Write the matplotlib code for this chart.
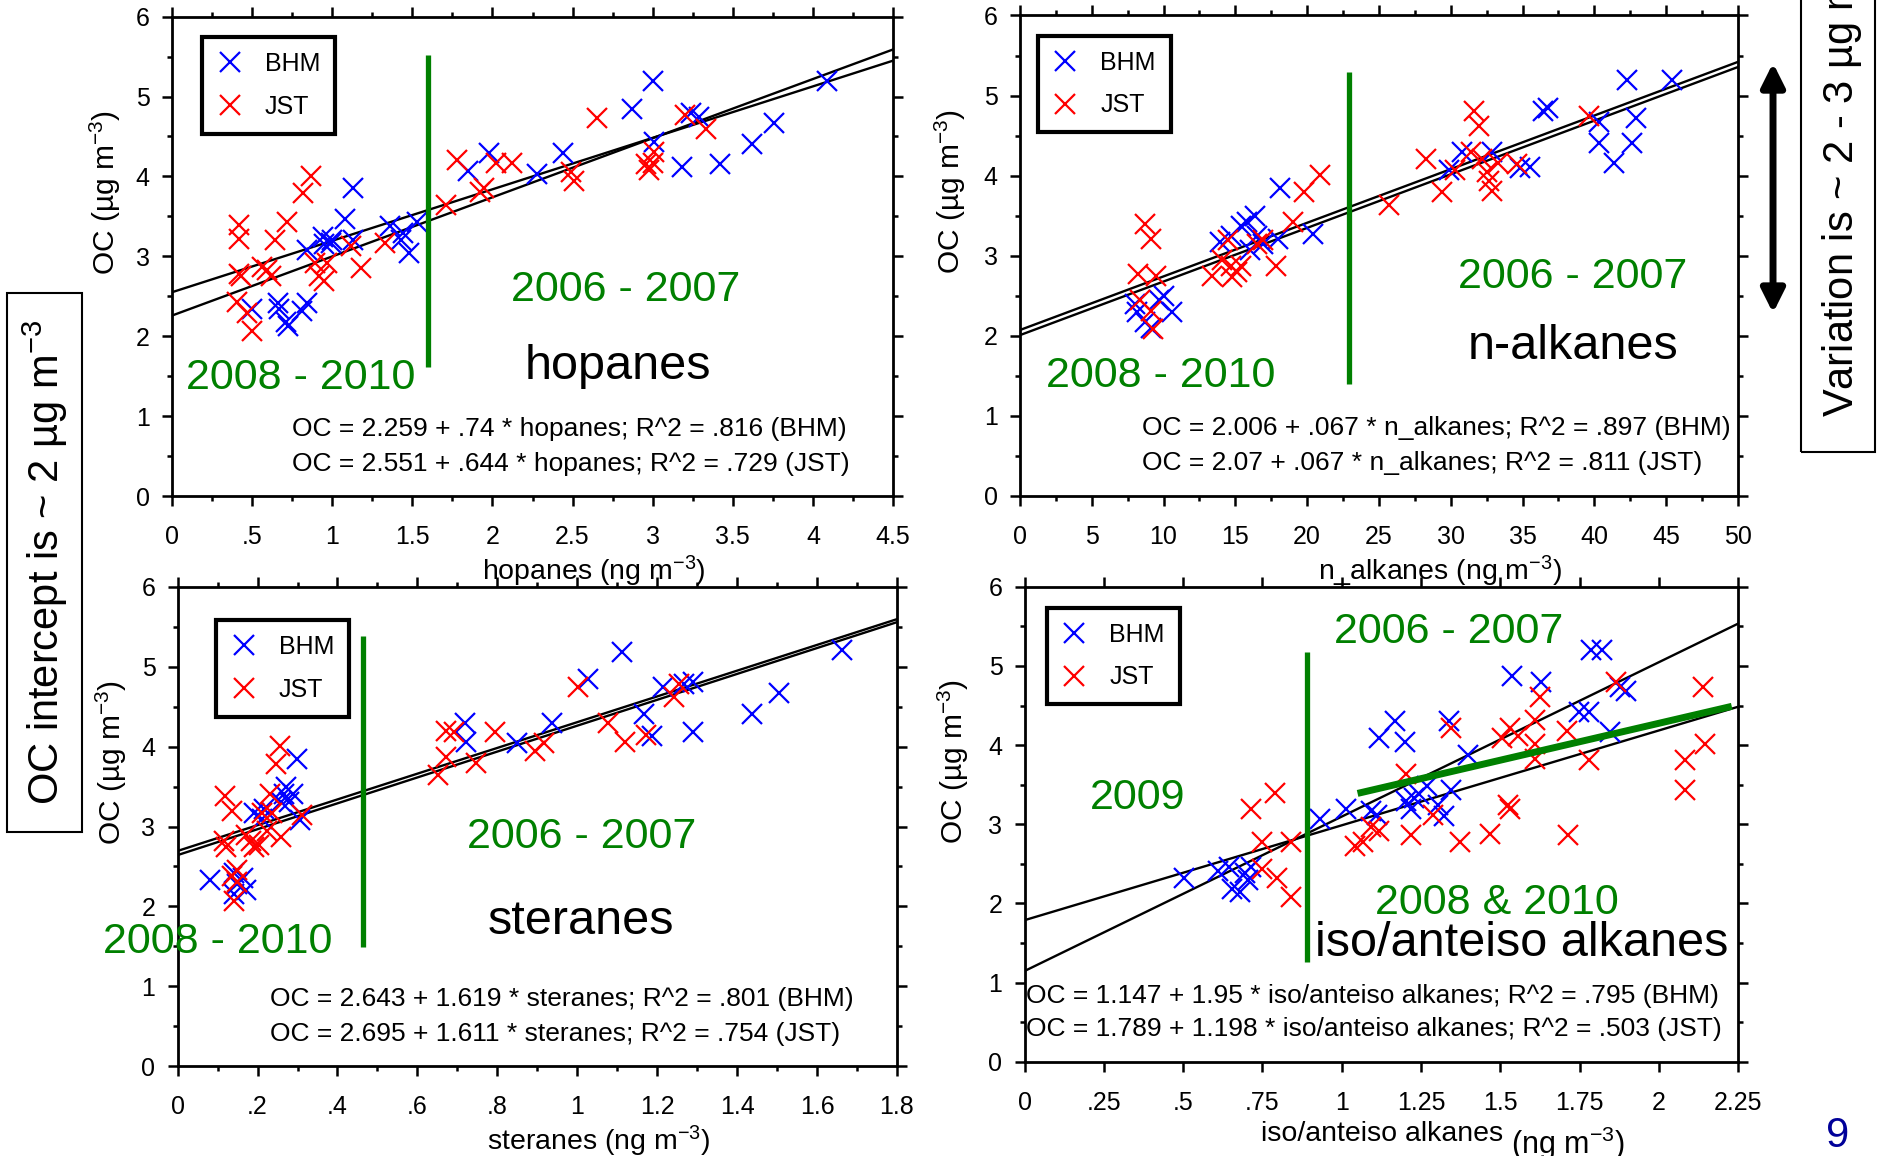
import matplotlib
matplotlib.use('Agg')
import numpy as np
import matplotlib.pyplot as plt
from matplotlib.patches import Rectangle, FancyArrowPatch
from matplotlib.lines import Line2D
from matplotlib.ticker import MultipleLocator, FixedLocator, NullLocator

plt.rcParams['font.family'] = ['Liberation Sans', 'DejaVu Sans']
plt.rcParams['mathtext.fontset'] = 'custom'
plt.rcParams['mathtext.rm'] = 'Liberation Sans'
plt.rcParams['mathtext.it'] = 'Liberation Sans:italic'
plt.rcParams['mathtext.bf'] = 'Liberation Sans:bold'
plt.rcParams['mathtext.default'] = 'regular'

# ---------------- data ----------------
# hopanes panel
hop_bhm_x = [0.50, 0.66, 0.67, 0.71, 0.725, 0.81, 0.84, 0.84, 0.94, 0.95, 0.99, 1.00, 1.08, 1.13, 1.13,
             1.36, 1.43, 1.44, 1.48, 1.53, 1.85, 1.98, 2.28, 2.44, 2.87, 3.00, 3.01, 3.18, 3.24, 3.29,
             3.42, 3.62, 3.76, 4.09]
hop_bhm_oc = [2.34, 2.41, 2.34, 2.18, 2.13, 2.32, 2.41, 3.08, 3.24, 3.15, 3.17, 3.20, 3.47, 3.86, 3.20,
              3.38, 3.20, 3.29, 3.04, 3.43, 4.07, 4.29, 4.03, 4.29, 4.85, 5.20, 4.43, 4.12, 4.80, 4.75,
              4.16, 4.41, 4.67, 5.20]
hop_jst_x = [0.415, 0.42, 0.415, 0.43, 0.405, 0.47, 0.50, 0.56, 0.59, 0.62, 0.64, 0.72, 0.82, 0.87, 0.89,
             0.92, 0.95, 0.97, 1.12, 1.18, 1.33, 1.71, 1.78, 1.92, 1.95, 2.02, 2.12, 2.49, 2.51, 2.65,
             2.96, 2.98, 3.00, 3.01, 3.20, 3.33]
hop_jst_oc = [3.22, 3.39, 2.78, 2.76, 2.43, 2.29, 2.06, 2.87, 2.83, 2.76, 3.20, 3.43, 3.79, 4.01, 2.92,
              2.76, 2.69, 2.92, 3.13, 2.85, 3.17, 3.64, 4.21, 3.80, 3.85, 4.17, 4.17, 4.05, 3.94, 4.73,
              4.15, 4.08, 4.17, 4.31, 4.77, 4.60]
hop_fit_bhm = (2.259, 0.74)
hop_fit_jst = (2.551, 0.644)

# n-alkanes panel
alk_bhm_x = [8.0, 8.18, 8.74, 9.1, 9.67, 10.0, 10.6, 13.9, 14.7, 15.4, 15.8, 16.0, 16.4, 16.5, 16.9,
             18.0, 18.1, 20.4, 29.9, 30.8, 32.9, 34.8, 35.5, 36.4, 36.8, 40.3, 40.3, 41.4, 42.3, 42.6,
             42.9, 45.4]
alk_bhm_oc = [2.40, 2.29, 2.17, 2.10, 2.45, 2.50, 2.29, 3.17, 3.24, 3.37, 3.42, 3.07, 3.49, 3.24, 3.14,
              3.21, 3.85, 3.27, 4.07, 4.30, 4.30, 4.09, 4.11, 4.81, 4.85, 4.67, 4.41, 4.16, 5.20, 4.41,
              4.72, 5.20]
alk_jst_x = [8.2, 8.36, 8.7, 9.1, 9.5, 9.1, 9.3, 13.4, 14.1, 14.5, 14.7, 14.8, 15.1, 15.4, 16.5,
             16.9, 17.8, 19.0, 19.8, 20.9, 25.7, 28.3, 29.4, 30.3, 31.4, 31.6, 32.0, 32.2, 32.5, 32.7,
             32.9, 33.3, 34.6, 39.6]
alk_jst_oc = [2.77, 2.45, 3.40, 3.21, 2.75, 2.31, 2.08, 2.75, 2.94, 3.19, 2.87, 2.73, 2.80, 2.87, 3.14,
              3.19, 2.87, 3.42, 3.79, 4.01, 3.63, 4.21, 3.79, 4.07, 4.30, 4.81, 4.62, 4.21, 4.05, 3.93,
              3.81, 4.16, 4.14, 4.74]
alk_fit_bhm = (2.006, 0.067)
alk_fit_jst = (2.07, 0.067)

# steranes panel
ste_bhm_x = [0.081, 0.142, 0.149, 0.163, 0.17, 0.142, 0.19, 0.21, 0.217, 0.258, 0.265, 0.271, 0.278, 0.288,
             0.298, 0.305, 0.719, 0.722, 0.848, 0.936, 1.027, 1.112, 1.167, 1.187, 1.214, 1.268, 1.289,
             1.289, 1.438, 1.506, 1.662]
ste_bhm_oc = [2.33, 2.42, 2.28, 2.35, 2.21, 2.15, 3.17, 3.10, 3.22, 3.31, 3.41, 3.50, 3.31, 3.41,
              3.85, 3.08, 4.29, 4.06, 4.05, 4.29, 4.85, 5.19, 4.41, 4.13, 4.74, 4.78, 4.81,
              4.18, 4.41, 4.67, 5.21]
ste_jst_x = [0.115, 0.122, 0.119, 0.136, 0.136, 0.149, 0.142, 0.149, 0.17, 0.183, 0.19, 0.203, 0.21, 0.224,
             0.231, 0.237, 0.247, 0.255, 0.258, 0.312, 0.651, 0.671, 0.671, 0.692, 0.746, 0.794, 0.895,
             0.916, 1.001, 1.078, 1.119, 1.173, 1.241, 1.255]
ste_jst_oc = [2.82, 2.75, 3.38, 3.19, 2.38, 2.45, 2.07, 2.31, 2.89, 2.82, 2.75, 2.77, 3.17, 2.94,
              3.41, 3.17, 3.78, 4.01, 2.87, 3.15, 3.64, 3.87, 4.20, 4.18, 3.80, 4.18, 3.94,
              4.04, 4.74, 4.29, 4.06, 4.15, 4.62, 4.78]
ste_fit_bhm = (2.643, 1.619)
ste_fit_jst = (2.695, 1.611)

# iso/anteiso alkanes panel
iso_bhm_x = [0.502, 0.611, 0.645, 0.654, 0.679, 0.696, 0.713, 0.704, 0.932, 1.012, 1.093, 1.11, 1.118, 1.169,
             1.20, 1.203, 1.22, 1.228, 1.245, 1.27, 1.304, 1.321, 1.338, 1.346, 1.397, 1.537, 1.628,
             1.747, 1.78, 1.786, 1.82, 1.845, 1.878, 1.895]
iso_bhm_oc = [2.32, 2.41, 2.46, 2.18, 2.15, 2.39, 2.46, 2.29, 3.07, 3.19, 3.17, 3.12, 4.09, 4.30,
              4.04, 3.29, 3.19, 3.33, 3.38, 3.48, 3.24, 3.10, 4.30, 3.43, 3.88, 4.87, 4.80,
              4.42, 4.42, 5.20, 5.20, 4.16, 4.73, 4.68]
iso_jst_x = [0.713, 0.747, 0.747, 0.789, 0.797, 0.84, 0.84, 1.042, 1.068, 1.093, 1.118, 1.203, 1.22, 1.287,
             1.346, 1.372, 1.468, 1.507, 1.524, 1.532, 1.532, 1.557, 1.608, 1.608, 1.611, 1.625, 1.709,
             1.713, 1.78, 1.865, 2.081, 2.084, 2.14, 2.145]
iso_jst_oc = [3.19, 2.77, 2.44, 3.39, 2.32, 2.77, 2.08, 2.72, 2.77, 2.96, 2.91, 3.64, 2.86, 3.12,
              4.21, 2.77, 2.88, 4.09, 3.24, 3.19, 4.21, 4.11, 3.83, 4.32, 4.02, 4.61, 4.18,
              2.86, 3.81, 4.80, 3.81, 3.43, 4.74, 4.02]
iso_fit_bhm = (1.147, 1.95)
iso_fit_jst = (1.789, 1.198)
iso_trend_x = [1.05, 2.23]      # thick green trend segment
iso_trend_oc = [3.39, 4.49]

# axis ticks / labels
y_ticks = [0, 1, 2, 3, 4, 5, 6]
y_ticklabels = ['0', '1', '2', '3', '4', '5', '6']
hop_xticks = [0, 0.5, 1, 1.5, 2, 2.5, 3, 3.5, 4, 4.5]
hop_xticklabels = ['0', '.5', '1', '1.5', '2', '2.5', '3', '3.5', '4', '4.5']
alk_xticks = [0, 5, 10, 15, 20, 25, 30, 35, 40, 45, 50]
alk_xticklabels = ['0', '5', '10', '15', '20', '25', '30', '35', '40', '45', '50']
ste_xticks = [0, 0.2, 0.4, 0.6, 0.8, 1.0, 1.2, 1.4, 1.6, 1.8]
ste_xticklabels = ['0', '.2', '.4', '.6', '.8', '1', '1.2', '1.4', '1.6', '1.8']
iso_xticks = [0, 0.25, 0.5, 0.75, 1.0, 1.25, 1.5, 1.75, 2.0, 2.25]
iso_xticklabels = ['0', '.25', '.5', '.75', '1', '1.25', '1.5', '1.75', '2', '2.25']

# period divider lines (x, y_from, y_to)
hop_divider = (1.60, 1.62, 5.52)
alk_divider = (22.9, 1.39, 5.29)
ste_divider = (0.464, 1.49, 5.39)
iso_divider = (0.89, 1.26, 5.17)

BLUE = '#0000ff'
RED = '#ff0000'
GREEN = '#008000'

fig = plt.figure(figsize=(18.78, 11.56), dpi=100)


def draw_panel(rect, xlim, xticks, xticklabels, xminor, bhm, jst, fits, divider,
               legend_pos, ylabel_x, xlabel):
    ax = fig.add_axes(rect)
    ax.set_facecolor('white')
    ax.set_xlim(*xlim)
    ax.set_ylim(0, 6)
    ax.xaxis.set_major_locator(FixedLocator(xticks))
    ax.set_xticklabels(xticklabels)
    ax.yaxis.set_major_locator(FixedLocator(y_ticks))
    ax.set_yticklabels(y_ticklabels)
    if xminor:
        ax.xaxis.set_minor_locator(MultipleLocator(xminor))
    else:
        ax.xaxis.set_minor_locator(NullLocator())
    ax.yaxis.set_minor_locator(MultipleLocator(0.5))
    ax.tick_params(which='both', direction='out', top=True, right=True, width=1.8)
    ax.tick_params(which='major', length=7, labelsize=18)
    ax.tick_params(which='minor', length=3.6)
    ax.tick_params(axis='x', which='major', pad=14)
    ax.tick_params(axis='y', which='major', pad=9)
    for s in ax.spines.values():
        s.set_linewidth(2)

    xs = np.array(xlim, dtype=float)
    for a, b in fits:
        ax.plot(xs, a + b * xs, color='black', lw=1.7, zorder=3)

    ax.plot(bhm[0], bhm[1], ls='none', marker='x', ms=15, mew=1.6, color=BLUE, zorder=4)
    ax.plot(jst[0], jst[1], ls='none', marker='x', ms=15, mew=1.6, color=RED, zorder=4)

    ax.plot([divider[0], divider[0]], [divider[1], divider[2]], color=GREEN, lw=3.8,
            solid_capstyle='butt', zorder=5)

    handles = [Line2D([], [], ls='none', marker='x', ms=15, mew=1.6, color=BLUE),
               Line2D([], [], ls='none', marker='x', ms=15, mew=1.6, color=RED)]
    leg = ax.legend(handles, ['BHM', 'JST'], loc='upper left', bbox_to_anchor=legend_pos,
                    borderaxespad=0, fancybox=False, framealpha=1, edgecolor='black',
                    fontsize=18, handlelength=1.0, handletextpad=0.9, labelspacing=0.75,
                    borderpad=0.6)
    leg.get_frame().set_linewidth(3)
    leg.set_zorder(6)

    ax.set_ylabel('OC (µg m$^{-3}$)', fontsize=21.5)
    ax.yaxis.set_label_coords(ylabel_x, 0.633)
    if xlabel is not None:
        ax.set_xlabel(xlabel, fontsize=20.5)
        ax.xaxis.set_label_coords(0.585, -0.12)
    return ax


def eq_text(ax, x, y, s):
    ax.text(x, y, s, fontsize=19, ha='left', va='center', zorder=7)


# ---------- panel 1: hopanes ----------
ax1 = draw_panel([0.0916, 0.5709, 0.3839, 0.4147], (0, 4.5), hop_xticks, hop_xticklabels, 0.25,
                 (hop_bhm_x, hop_bhm_oc), (hop_jst_x, hop_jst_oc), (hop_fit_bhm, hop_fit_jst),
                 hop_divider, (0.042, 0.958), -0.068, 'hopanes (ng m$^{-3}$)')
ax1.text(0.80, 1.48, '2008 - 2010', color=GREEN, fontsize=31, ha='center', va='center')
ax1.text(2.83, 2.58, '2006 - 2007', color=GREEN, fontsize=31, ha='center', va='center')
ax1.text(2.78, 1.62, 'hopanes', color='black', fontsize=35, ha='center', va='center')
eq_text(ax1, 0.75, 0.84, 'OC = 2.259 + .74 * hopanes; R^2 = .816 (BHM)')
eq_text(ax1, 0.75, 0.40, 'OC = 2.551 + .644 * hopanes; R^2 = .729 (JST)')

# ---------- panel 2: n-alkanes ----------
ax2 = draw_panel([0.5431, 0.5712, 0.3823, 0.4154], (0, 50), alk_xticks, alk_xticklabels, 2.5,
                 (alk_bhm_x, alk_bhm_oc), (alk_jst_x, alk_jst_oc), (alk_fit_bhm, alk_fit_jst),
                 alk_divider, (0.025, 0.958), -0.072, 'n_alkanes (ng m$^{-3}$)')
ax2.text(9.8, 1.50, '2008 - 2010', color=GREEN, fontsize=31, ha='center', va='center')
ax2.text(38.5, 2.73, '2006 - 2007', color=GREEN, fontsize=31, ha='center', va='center')
ax2.text(38.5, 1.87, 'n-alkanes', color='black', fontsize=35, ha='center', va='center')
eq_text(ax2, 8.5, 0.84, 'OC = 2.006 + .067 * n_alkanes; R^2 = .897 (BHM)')
eq_text(ax2, 8.5, 0.41, 'OC = 2.07 + .067 * n_alkanes; R^2 = .811 (JST)')

# ---------- panel 3: steranes ----------
ax3 = draw_panel([0.0946, 0.0776, 0.3830, 0.4148], (0, 1.8), ste_xticks, ste_xticklabels, 0.1,
                 (ste_bhm_x, ste_bhm_oc), (ste_jst_x, ste_jst_oc), (ste_fit_bhm, ste_fit_jst),
                 ste_divider, (0.054, 0.931), -0.068, 'steranes (ng m$^{-3}$)')
ax3.text(0.10, 1.56, '2008 - 2010', color=GREEN, fontsize=31, ha='center', va='center')
ax3.text(1.01, 2.87, '2006 - 2007', color=GREEN, fontsize=31, ha='center', va='center')
ax3.text(1.01, 1.81, 'steranes', color='black', fontsize=35, ha='center', va='center')
eq_text(ax3, 0.231, 0.84, 'OC = 2.643 + 1.619 * steranes; R^2 = .801 (BHM)')
eq_text(ax3, 0.231, 0.41, 'OC = 2.695 + 1.611 * steranes; R^2 = .754 (JST)')

# ---------- panel 4: iso/anteiso alkanes ----------
ax4 = draw_panel([0.5456, 0.0815, 0.3799, 0.4109], (0, 2.25), iso_xticks, iso_xticklabels, None,
                 (iso_bhm_x, iso_bhm_oc), (iso_jst_x, iso_jst_oc), (iso_fit_bhm, iso_fit_jst),
                 iso_divider, (0.031, 0.956), -0.075, None)
ax4.plot(iso_trend_x, iso_trend_oc, color=GREEN, lw=5, solid_capstyle='butt', zorder=5)
ax4.text(1.338, 5.43, '2006 - 2007', color=GREEN, fontsize=31, ha='center', va='center')
ax4.text(0.355, 3.33, '2009', color=GREEN, fontsize=31, ha='center', va='center')
ax4.text(1.49, 2.00, '2008 & 2010', color=GREEN, fontsize=31, ha='center', va='center')
ax4.text(1.566, 1.49, 'iso/anteiso alkanes', color='black', fontsize=35, ha='center', va='center')
eq_text(ax4, 0.003, 0.83, 'OC = 1.147 + 1.95 * iso/anteiso alkanes; R^2 = .795 (BHM)')
eq_text(ax4, 0.003, 0.41, 'OC = 1.789 + 1.198 * iso/anteiso alkanes; R^2 = .503 (JST)')
ax4.text(0.501, -0.125, 'iso/anteiso alkanes', transform=ax4.transAxes, fontsize=20.5,
         ha='center', va='top')
ax4.text(0.762, -0.132, '(ng m$^{-3}$)', transform=ax4.transAxes, fontsize=22,
         ha='center', va='top')

# ---------- figure-level annotations ----------
fig.add_artist(Rectangle((0.0037, 0.2803), 0.0399, 0.4663, transform=fig.transFigure,
                         fill=False, ec='black', lw=1.5))
fig.text(0.024, 0.5138, 'OC intercept is ~ 2 µg m$^{-3}$', rotation=90, ha='center',
         va='center', fontsize=30)

fig.add_artist(Rectangle((0.959, 0.6093), 0.0394, 0.5, transform=fig.transFigure,
                         fill=False, ec='black', lw=1.5))
fig.text(0.9798, 0.6393, 'Variation is ~ 2 - 3 µg m$^{-3}$', rotation=90, ha='center',
         va='bottom', fontsize=30)

fig.add_artist(FancyArrowPatch((0.9441, 0.7292), (0.9441, 0.9455), transform=fig.transFigure,
                               arrowstyle='<|-|>,head_length=0.7,head_width=0.35',
                               mutation_scale=20, lw=5, color='black',
                               shrinkA=0, shrinkB=0))

fig.text(0.9787, 0.0175, '9', color='#000099', fontsize=30, ha='center', va='center')

fig.savefig('out.png', dpi=100)
